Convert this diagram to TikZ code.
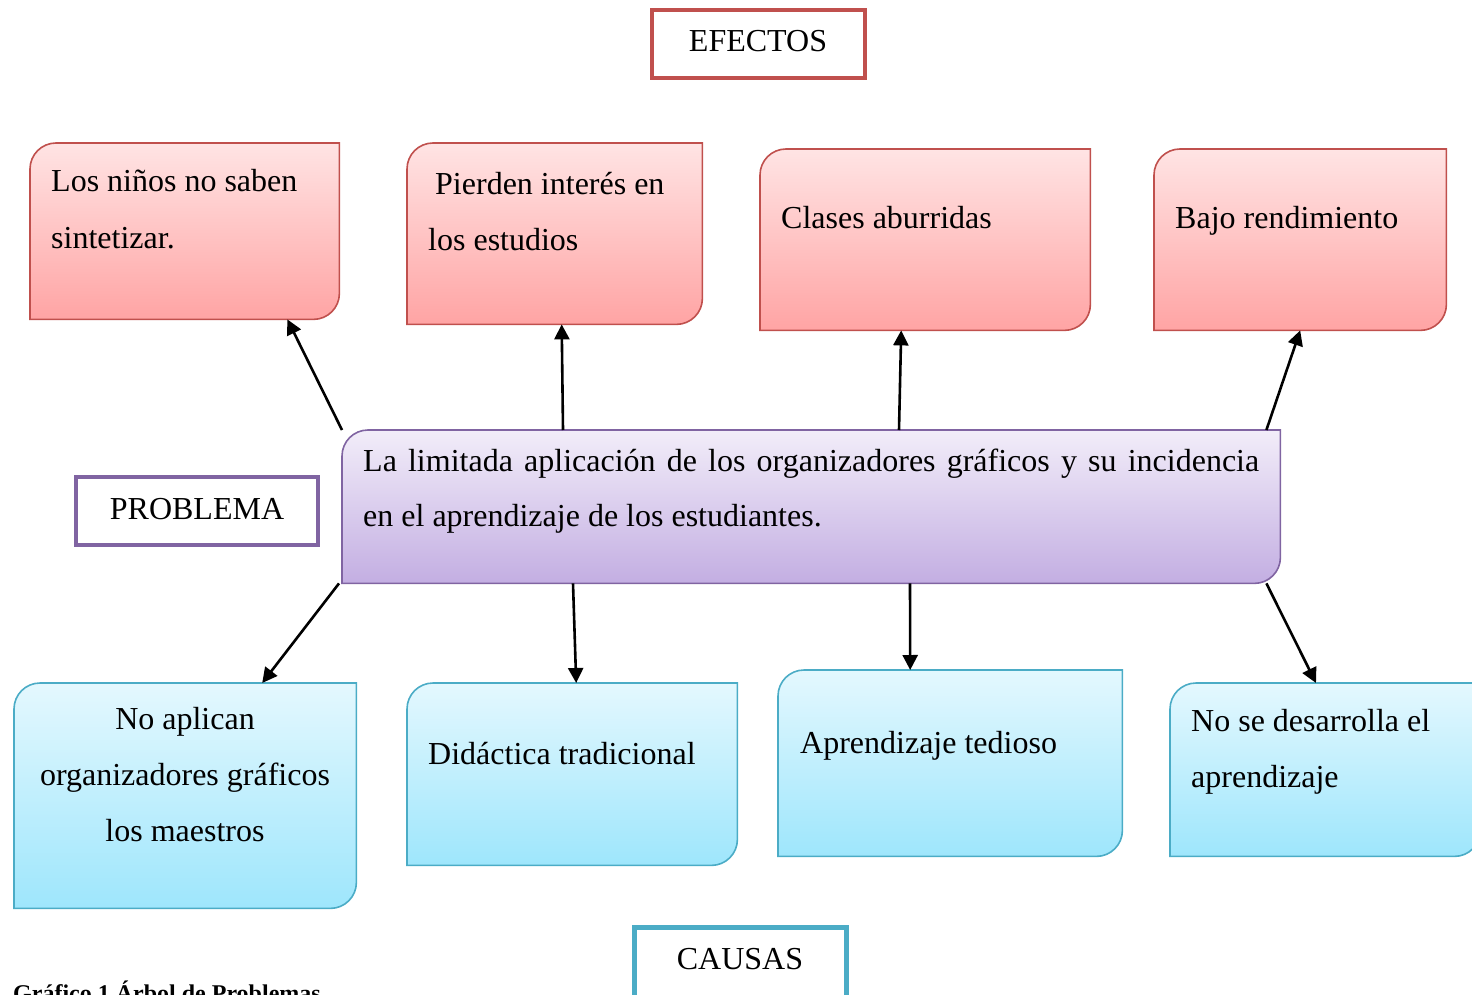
\documentclass[tikz,border=0pt]{standalone}
\usepackage{fontspec}
\setmainfont{Liberation Serif}
\usetikzlibrary{arrows.meta,calc}

\definecolor{effdraw}{HTML}{C0504D}
\definecolor{efftop}{HTML}{FFE4E4}
\definecolor{effbot}{HTML}{FFA4A4}
\definecolor{caudraw}{HTML}{4BACC6}
\definecolor{cautop}{HTML}{E4F8FE}
\definecolor{caubot}{HTML}{9EE6FC}
\definecolor{prodraw}{HTML}{8064A2}
\definecolor{protop}{HTML}{F2EDF9}
\definecolor{probot}{HTML}{C3AEE2}

\def\cornerR{26pt}

% box with the top-left and bottom-right corners rounded, drawn round a named node
\newcommand\diagcut[4]{%
  \fill[black,opacity=0.25,shift={(2pt,-4pt)}]
    (#1.south west) -- ([yshift=-\cornerR]#1.north west)
    arc[start angle=180,end angle=90,radius=\cornerR] -- (#1.north east)
    -- ([yshift=\cornerR]#1.south east)
    arc[start angle=0,end angle=-90,radius=\cornerR] -- cycle;
  \shade[top color=#2,bottom color=#3,draw=#4,line width=1.6pt]
    (#1.south west) -- ([yshift=-\cornerR]#1.north west)
    arc[start angle=180,end angle=90,radius=\cornerR] -- (#1.north east)
    -- ([yshift=\cornerR]#1.south east)
    arc[start angle=0,end angle=-90,radius=\cornerR] -- cycle;
}

\tikzset{
  frame/.style={draw=none,inner sep=0pt,anchor=north west},
  txt/.style={inner sep=0pt,font=\fontsize{32}{56}\selectfont},
  txtw/.style={txt,anchor=base west},
  txtc/.style={txt,anchor=base},
  tag/.style={draw,line width=4pt,inner sep=0pt,outer sep=0pt,anchor=north west},
  arr/.style={line width=2.6pt,-{Triangle[length=15pt,width=15pt]}},
}

\begin{document}
\begin{tikzpicture}[x=1pt,y=1pt]
\useasboundingbox (0,0) rectangle (1472,-995);
\clip (0,0) rectangle (1472,-995);

% heading tags
\node[tag,draw=effdraw,minimum width=213pt,minimum height=68pt] (efectos) at (652,-10) {};
\node[txtc] (efectosl) at (758,-52) {EFECTOS};
\node[tag,draw=prodraw,minimum width=242pt,minimum height=68pt] (problema) at (76,-477) {};
\node[txtc] (problemal) at (197,-519) {PROBLEMA};
\node[tag,draw=caudraw,line width=5pt,minimum width=212pt,minimum height=90pt] (causas) at (634.5,-927.5) {};
\node[txtc] (causasl) at (740,-969) {CAUSAS};

% effects
\node[frame,minimum width=309pt,minimum height=176pt] (e1) at (30,-143) {};
\node[frame,minimum width=295pt,minimum height=181pt] (e2) at (407,-143) {};
\node[frame,minimum width=330pt,minimum height=181pt] (e3) at (760,-149) {};
\node[frame,minimum width=292pt,minimum height=181pt] (e4) at (1154,-149) {};
\foreach \n in {e1,e2,e3,e4} {\diagcut{\n}{efftop}{effbot}{effdraw}}

% problem
\node[frame,minimum width=938pt,minimum height=153pt] (p) at (342,-430) {};
\diagcut{p}{protop}{probot}{prodraw}

% causes
\node[frame,minimum width=342pt,minimum height=225pt] (c1) at (14,-683) {};
\node[frame,minimum width=330pt,minimum height=182pt] (c2) at (407,-683) {};
\node[frame,minimum width=344pt,minimum height=186pt] (c3) at (778,-670) {};
\node[frame,minimum width=310pt,minimum height=173pt] (c4) at (1170,-683) {};
\foreach \n in {c1,c2,c3,c4} {\diagcut{\n}{cautop}{caubot}{caudraw}}

% texts
\node[txtw] (e1a) at (51,-192) {Los niños no saben};
\node[txtw] (e1b) at (51,-248) {sintetizar.};
\node[txtw] (e2a) at (435,-195) {Pierden interés en};
\node[txtw] (e2b) at (428,-251) {los estudios};
\node[txtw] (e3a) at (781,-229) {Clases aburridas};
\node[txtw] (e4a) at (1175,-229) {Bajo rendimiento};

\node[txtw] (pa) at (363,-471) {\makebox[896pt][s]{La limitada aplicación de los organizadores gráficos y su incidencia}};
\node[txtw] (pb) at (363,-526) {en el aprendizaje de los estudiantes.};

\node[txtc] (c1a) at (185,-729) {No aplican};
\node[txtc] (c1b) at (185,-785) {organizadores gráficos};
\node[txtc] (c1c) at (185,-841) {los maestros};
\node[txtw] (c2a) at (428,-764) {Didáctica tradicional};
\node[txtw] (c3a) at (800,-753) {Aprendizaje tedioso};
\node[txtw] (c4a) at (1191,-731) {No se desarrolla el};
\node[txtw] (c4b) at (1191,-787) {aprendizaje};

% connectors
\draw[arr] (p.north west) -- ([xshift=-52pt]e1.south east);
\draw[arr] ([xshift=221pt]p.north west) -- ([xshift=7pt]e2.south);
\draw[arr] ([xshift=557pt]p.north west) -- ([xshift=-24pt]e3.south);
\draw[arr] ([xshift=-14pt]p.north east) -- (e4.south);
\draw[arr] ([xshift=-3pt]p.south west) -- ([xshift=77pt]c1.north);
\draw[arr] ([xshift=231pt]p.south west) -- ([xshift=4pt]c2.north);
\draw[arr] ([xshift=568pt]p.south west) -- ([xshift=-40pt]c3.north);
\draw[arr] ([xshift=-14pt]p.south east) -- ([xshift=146pt]c4.north west);

% caption
\node[inner sep=0pt,anchor=base west,font=\bfseries\fontsize{24}{28}\selectfont] (cap) at (13,-1001) {Gráfico 1 Árbol de Problemas};
\end{tikzpicture}
\end{document}
